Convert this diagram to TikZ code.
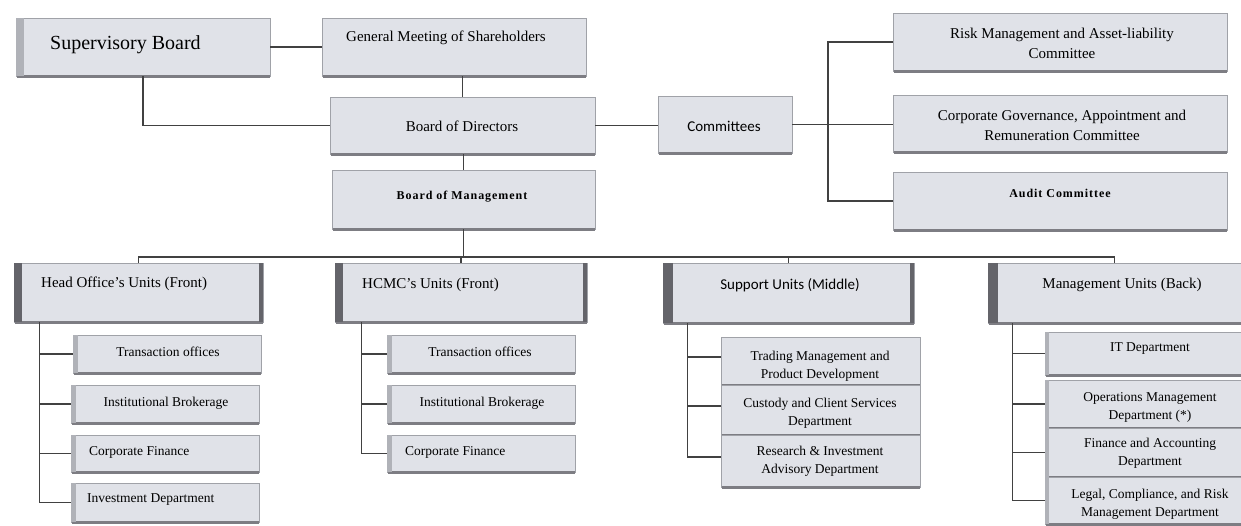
\documentclass[tikz,border=0pt]{standalone}
\usepackage{fontspec}
\setmainfont{Liberation Serif}
\newfontfamily\carl{Carlito}
\newfontfamily\spbf[LetterSpace=8]{Liberation Serif}
\usetikzlibrary{fit}
\definecolor{boxfill}{RGB}{224,226,232}
\definecolor{boxedge}{RGB}{160,162,168}
\definecolor{shadowc}{RGB}{125,125,131}
\definecolor{darkbar}{RGB}{100,100,106}
\definecolor{lightbar}{RGB}{176,178,184}
\definecolor{linecol}{RGB}{65,65,65}
\newcommand\mkbox[5]{\node[box, fit={(#2,#3) (#4,#5)}] (#1) {};
  \draw[shad] ([xshift=1pt]#1.south west) -- (#1.south east);}
\newcommand\lbar[3]{\fill[#3] (#1.north west) rectangle ([xshift=#2]#1.south west);}
\newcommand\rbar[3]{\fill[#3] ([xshift=-#2]#1.north east) rectangle (#1.south east);}
\begin{document}
\begin{tikzpicture}[x=1pt,y=-1pt,
  box/.style={draw=boxedge, fill=boxfill, line width=0.8pt, inner sep=0pt},
  shad/.style={draw=shadowc, line width=2.4pt},
  conn/.style={draw=linecol, line width=1.1pt},
  txt/.style={inner sep=0pt, text=black, align=center},
  big/.style={font=\fontsize{20}{24}\selectfont},
  mid/.style={font=\fontsize{15}{20}\selectfont},
  sml/.style={font=\fontsize{13.5}{18}\selectfont},
  spb/.style={font=\spbf\bfseries\fontsize{12}{14}\selectfont},
  cal/.style={font=\carl\fontsize{15}{18}\selectfont}]
\useasboundingbox[fill=white] (0,0) rectangle (1241,525);
% top boxes
\mkbox{sb}{16}{18}{270}{76}
\lbar{sb}{8pt}{lightbar}
\mkbox{gms}{322}{18}{586}{76}
\mkbox{bod}{330}{97}{595}{154}
\mkbox{bom}{332}{170}{595}{229}
\mkbox{com}{658}{96}{792}{153}
\mkbox{risk}{893}{13}{1227}{71}
\mkbox{corp}{893}{95}{1227}{152}
\mkbox{audit}{893}{172}{1227}{230}
% unit headers
\mkbox{ho}{14}{263}{263}{322}
\lbar{ho}{8pt}{darkbar}\rbar{ho}{4pt}{darkbar}
\mkbox{hc}{335}{263}{587}{322}
\lbar{hc}{8pt}{darkbar}\rbar{hc}{4pt}{darkbar}
\mkbox{su}{663}{263}{914}{323}
\lbar{su}{10pt}{darkbar}\rbar{su}{4pt}{darkbar}
\mkbox{mg}{988}{263}{1241}{323}
\lbar{mg}{10pt}{darkbar}
% children
\mkbox{hoA}{73}{335}{261}{373}\lbar{hoA}{5pt}{lightbar}
\mkbox{hoB}{71}{385}{259}{423}\lbar{hoB}{5pt}{lightbar}
\mkbox{hoC}{71}{435}{259}{472}\lbar{hoC}{5pt}{lightbar}
\mkbox{hoD}{71}{483}{259}{522}\lbar{hoD}{5pt}{lightbar}
\mkbox{hcA}{387}{335}{575}{373}\lbar{hcA}{5pt}{lightbar}
\mkbox{hcB}{387}{385}{575}{423}\lbar{hcB}{5pt}{lightbar}
\mkbox{hcC}{387}{435}{575}{472}\lbar{hcC}{5pt}{lightbar}
\mkbox{suA}{721}{337}{920}{385}
\mkbox{suB}{721}{385}{920}{435}
\mkbox{suC}{721}{435}{920}{487}
\mkbox{mgA}{1045}{332}{1241}{375}\lbar{mgA}{4pt}{lightbar}
\mkbox{mgB}{1045}{380}{1241}{428}\lbar{mgB}{4pt}{lightbar}
\mkbox{mgC}{1045}{428}{1241}{477}\lbar{mgC}{4pt}{lightbar}
\mkbox{mgD}{1045}{477}{1241}{524}\lbar{mgD}{4pt}{lightbar}
% texts
\node[txt,big,anchor=west] (sbt) at (50,45) {Supervisory Board};
\node[txt,mid] (gmst) at (446,38) {General Meeting of Shareholders};
\node[txt,mid] (bodt) at (462,126) {Board of Directors};
\node[txt,spb] (bomt) at (462,197) {Board of Management};
\node[txt,cal] (comt) at (724,126) {Committees};
\node[txt,mid] (riskt) at (1062,43) {Risk Management and Asset-liability\\Committee};
\node[txt,mid] (corpt) at (1062,125) {Corporate Governance, Appointment and\\Remuneration Committee};
\node[txt,spb] (auditt) at (1060,193) {Audit Committee};
\node[txt,mid,anchor=west] (hot) at (41,284) {Head Office's Units (Front)};
\node[txt,mid,anchor=west] (hct) at (362,285) {HCMC's Units (Front)};
\node[txt,cal] (sut) at (790,285) {Support Units (Middle)};
\node[txt,mid] (mgt) at (1122,285) {Management Units (Back)};
\node[txt,sml] (hoAt) at (168,352) {Transaction offices};
\node[txt,sml] (hoBt) at (166,403) {Institutional Brokerage};
\node[txt,sml,anchor=west] (hoCt) at (89,452) {Corporate Finance};
\node[txt,sml,anchor=west] (hoDt) at (87,500) {Investment Department};
\node[txt,sml] (hcAt) at (480,352) {Transaction offices};
\node[txt,sml] (hcBt) at (482,403) {Institutional Brokerage};
\node[txt,sml,anchor=west] (hcCt) at (405,452) {Corporate Finance};
\node[txt,sml] (suAt) at (820,366) {Trading Management and\\Product Development};
\node[txt,sml] (suBt) at (820,413) {Custody and Client Services\\Department};
\node[txt,sml] (suCt) at (820,461) {Research \& Investment\\Advisory Department};
\node[txt,sml] (mgAt) at (1150,349) {IT Department};
\node[txt,sml] (mgBt) at (1150,407) {Operations Management\\Department (*)};
\node[txt,sml] (mgCt) at (1150,453) {Finance and Accounting\\Department};
\node[txt,sml] (mgDt) at (1150,504) {Legal, Compliance, and Risk\\Management Department};
% connectors
\draw[conn] (sb.east) -- (gms.west);
\draw[conn] (bod.north |- gms.south) -- (bod.north);
\draw[conn] (sb.south) |- (bod.west);
\draw[conn] (bod.east) -- (bod.east -| com.west);
\coordinate (br) at (828,125);
\draw[conn] (com.east) -- (com.east -| corp.west);
\draw[conn] (risk.west) -| (br) |- (audit.west);
\draw[conn] (bom.north |- bod.south) -- (bom.north);
\coordinate (bus) at (463.5,257);
\draw[conn] (bom.south) -- (bus);
\draw[conn] (ho.north) |- (bus) -| (mg.north);
\draw[conn] (hc.north) -- (hc.north |- bus);
\draw[conn] (su.north) -- (su.north |- bus);
\foreach \c in {hoA,hoB,hoC,hoD}{\draw[conn] ([xshift=26pt]ho.south west) |- (\c.west);}
\foreach \c in {hcA,hcB,hcC}{\draw[conn] ([xshift=27pt]hc.south west) |- (\c.west);}
\foreach \c in {suA,suB,suC}{\draw[conn] ([xshift=25pt]su.south west) |- ([yshift=4pt]\c.west);}
\foreach \c in {mgA,mgB,mgC,mgD}{\draw[conn] ([xshift=25pt]mg.south west) |- (\c.west);}
\end{tikzpicture}
\end{document}
